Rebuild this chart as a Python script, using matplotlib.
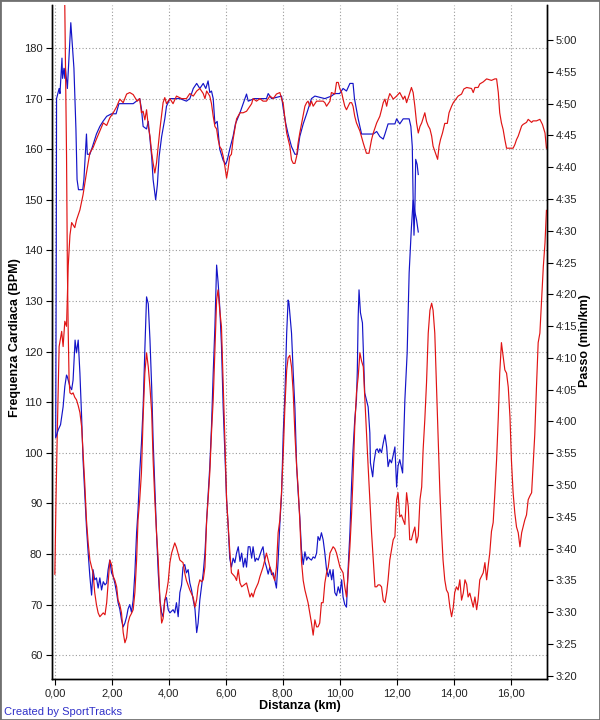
import numpy as np
import matplotlib
matplotlib.use('Agg')
import matplotlib.pyplot as plt
from matplotlib.ticker import FuncFormatter
from matplotlib.patches import Rectangle

plt.rcParams['font.family'] = ['Liberation Sans', 'DejaVu Sans']

# (km, bpm) - frequenza cardiaca, corsa blu
blue_hr = [(0.03, 103), (0.05, 140), (0.06, 170), (0.15, 172), (0.18, 171), (0.25, 178), (0.27, 174),
           (0.32, 176), (0.35, 174), (0.37, 176), (0.44, 172), (0.56, 185), (0.67, 176), (0.74, 164),
           (0.78, 154), (0.83, 152), (0.98, 152), (1.02, 154), (1.11, 163), (1.14, 159), (1.23, 159),
           (1.32, 160.5), (1.46, 163), (1.58, 164.5), (1.69, 165.5), (1.82, 166.5), (1.99, 167),
           (2.15, 167), (2.25, 169), (2.56, 169), (2.75, 169), (2.98, 170), (3.04, 168), (3.10, 164.5),
           (3.22, 164), (3.28, 165.5), (3.34, 162), (3.40, 158.5), (3.45, 154), (3.54, 150), (3.60, 153),
           (3.66, 158.5), (3.75, 162.5), (3.86, 166), (3.92, 168.5), (4.04, 170), (4.39, 170),
           (4.62, 169.5), (4.74, 170), (4.86, 172), (4.98, 173), (5.09, 172), (5.21, 173), (5.30, 172),
           (5.38, 173.5), (5.44, 171.2), (5.50, 171.5), (5.56, 170), (5.62, 165), (5.70, 165.5),
           (5.79, 160), (5.91, 157.8), (6.00, 157), (6.06, 158), (6.14, 160), (6.26, 162.6), (6.34, 165),
           (6.50, 167.2), (6.73, 170.9), (6.79, 169.5), (7.00, 170), (7.43, 170), (7.49, 171),
           (7.61, 170), (7.96, 170.5), (8.02, 168), (8.11, 165), (8.19, 163), (8.31, 160.5), (8.43, 159),
           (8.51, 159), (8.60, 162.5), (8.72, 165), (8.84, 167), (9.01, 170), (9.13, 170.5), (9.48, 170),
           (9.71, 170.5), (9.83, 171), (10.00, 171), (10.12, 172), (10.24, 171.5), (10.36, 173),
           (10.47, 173), (10.52, 170), (10.65, 166), (10.77, 163), (11.18, 163), (11.30, 163.5),
           (11.41, 162.5), (11.53, 162), (11.59, 163), (11.70, 165), (11.94, 165), (12.00, 166),
           (12.11, 165), (12.23, 166), (12.44, 166), (12.50, 164.5), (12.55, 160.5), (12.58, 150),
           (12.61, 143), (12.64, 148), (12.67, 158), (12.72, 157), (12.76, 155)]

# (km, bpm) - frequenza cardiaca, corsa rossa
red_hr = [(0.00, 76), (0.04, 90.6), (0.08, 102.5), (0.15, 121), (0.24, 124), (0.29, 121), (0.35, 126),
          (0.41, 125), (0.47, 137), (0.53, 143), (0.59, 145.5), (0.70, 144.5), (0.76, 146), (0.88, 148),
          (0.99, 151), (1.11, 155.3), (1.23, 159.3), (1.34, 160.3), (1.46, 162), (1.58, 163.6),
          (1.70, 165.2), (1.82, 164.7), (1.93, 166.2), (2.05, 167.2), (2.17, 168.4), (2.28, 169.9),
          (2.40, 169.2), (2.52, 170.9), (2.63, 171.2), (2.75, 170.8), (2.89, 169.5), (2.98, 170),
          (3.04, 167.2), (3.10, 167.5), (3.16, 165.8), (3.22, 167.8), (3.28, 164.6), (3.34, 162.6),
          (3.40, 159.3), (3.45, 157.3), (3.51, 155.3), (3.57, 157.3), (3.63, 160.6), (3.69, 164),
          (3.80, 169.2), (3.86, 170.2), (3.92, 169), (4.04, 170), (4.15, 169), (4.27, 170.5),
          (4.45, 170), (4.62, 170), (4.74, 171), (4.86, 170.5), (4.98, 171.5), (5.09, 172), (5.21, 171),
          (5.27, 170), (5.33, 171.5), (5.44, 170.5), (5.50, 169), (5.56, 166.5), (5.62, 164.5),
          (5.68, 164), (5.73, 162), (5.79, 160.5), (5.85, 160), (5.91, 158.6), (5.97, 156.6),
          (6.03, 154.3), (6.08, 156), (6.14, 158.6), (6.20, 159), (6.26, 162), (6.32, 164), (6.38, 166),
          (6.50, 167.2), (6.61, 167.2), (6.73, 167.5), (6.85, 168.5), (6.91, 169), (6.96, 170),
          (7.08, 169.5), (7.20, 170), (7.31, 169.5), (7.43, 169.5), (7.55, 170.5), (7.67, 170),
          (7.78, 170.9), (7.90, 171.2), (7.96, 170), (8.02, 169), (8.08, 165.9), (8.14, 163.2),
          (8.19, 162), (8.25, 160.6), (8.31, 157.9), (8.37, 157.2), (8.43, 157.2), (8.49, 158.6),
          (8.54, 161.2), (8.60, 163.2), (8.66, 165), (8.72, 166.9), (8.78, 168.5), (8.84, 169.2),
          (8.89, 169.5), (8.95, 168.5), (9.01, 169.5), (9.07, 168.5), (9.19, 169.5), (9.30, 169.5),
          (9.42, 169.5), (9.48, 169.2), (9.54, 168.5), (9.66, 169.5), (9.71, 171.2), (9.83, 170.9),
          (9.89, 173.2), (9.95, 173.2), (10.01, 171.9), (10.07, 171.2), (10.12, 169.9), (10.18, 168.5),
          (10.24, 167.8), (10.36, 169.2), (10.42, 169.2), (10.47, 168.5), (10.53, 166.5), (10.59, 165.2),
          (10.71, 163.6), (10.83, 161.2), (10.94, 159.2), (11.03, 159.2), (11.12, 161.9), (11.18, 163.2),
          (11.30, 165.2), (11.41, 166.5), (11.47, 167.8), (11.53, 169.2), (11.59, 169.9), (11.65, 168.5),
          (11.70, 169.9), (11.76, 171), (11.82, 170.5), (11.88, 169.9), (12.00, 170.5), (12.11, 171.2),
          (12.23, 169.9), (12.29, 170.5), (12.35, 169.2), (12.41, 170.2), (12.52, 172.2), (12.58, 171.2),
          (12.64, 168.5), (12.70, 165.2), (12.76, 163.2), (12.82, 164.5), (12.88, 165.2), (12.99, 167.2),
          (13.05, 165.5), (13.11, 164.6), (13.17, 164), (13.23, 162.6), (13.28, 160.6), (13.34, 159.6),
          (13.40, 158.6), (13.44, 158), (13.49, 160.6), (13.54, 161.9), (13.61, 163.2), (13.69, 165.1),
          (13.78, 165.1), (13.84, 167.2), (13.93, 168.5), (13.99, 169.2), (14.08, 169.9), (14.16, 170.5),
          (14.28, 170.9), (14.36, 171.9), (14.46, 172.2), (14.63, 172), (14.69, 171.2), (14.75, 172.2),
          (14.86, 172.2), (14.92, 172.9), (15.04, 173.3), (15.16, 173.9), (15.33, 173.6), (15.45, 173.9),
          (15.51, 173.9), (15.57, 171.2), (15.62, 167.2), (15.68, 165.2), (15.74, 163.9), (15.80, 161.9),
          (15.86, 160.2), (16.09, 160.2), (16.15, 160.9), (16.21, 161.9), (16.27, 162.6), (16.33, 163.6),
          (16.39, 164.6), (16.44, 164.9), (16.56, 165.3), (16.62, 165.9), (16.74, 165.3), (16.79, 165.6),
          (16.91, 165.6), (17.03, 165.9), (17.12, 164.9), (17.21, 163.2), (17.26, 160.2)]

# (km, secondi al km) - passo, corsa blu
blue_pace = [(0.04, 237.6), (0.12, 238.7), (0.20, 239.5), (0.29, 242.3), (0.35, 245.5), (0.41, 247.3),
             (0.44, 247.0), (0.53, 245.5), (0.59, 245.0), (0.64, 246.5), (0.71, 252.8), (0.76, 250.8),
             (0.82, 252.8), (0.88, 247.6), (0.94, 240.7), (0.99, 234.0), (1.05, 228.8), (1.11, 223.4),
             (1.17, 219.3), (1.23, 215.6), (1.29, 212.7), (1.34, 216.7), (1.40, 215.1), (1.46, 215.4),
             (1.52, 213.8), (1.58, 215.4), (1.64, 213.5), (1.70, 214.8), (1.76, 214.3), (1.82, 214.6),
             (1.87, 216.7), (1.93, 218.2), (1.99, 216.2), (2.05, 215.6), (2.11, 214.5), (2.17, 213.0),
             (2.22, 211.5), (2.28, 210.5), (2.34, 208.8), (2.40, 207.7), (2.46, 208.3), (2.52, 209.3),
             (2.57, 210.5), (2.63, 211.2), (2.69, 210.0), (2.75, 211.9), (2.81, 216.2), (2.87, 222.5),
             (2.92, 226.0), (2.98, 232.0), (3.04, 236.5), (3.10, 242.3), (3.16, 251.3), (3.22, 259.6),
             (3.28, 258.5), (3.34, 252.8), (3.40, 245.4), (3.45, 237.1), (3.51, 229.7), (3.57, 222.5),
             (3.63, 216.2), (3.69, 211.9), (3.75, 209.9), (3.80, 209.3), (3.86, 211.9), (3.92, 212.3),
             (3.98, 210.4), (4.04, 209.9), (4.15, 210.4), (4.21, 209.9), (4.27, 211.5), (4.33, 209.3),
             (4.39, 213.1), (4.45, 214.3), (4.50, 217.1), (4.56, 217.5), (4.62, 216.2), (4.68, 216.7),
             (4.74, 214.6), (4.80, 213.5), (4.86, 211.9), (4.92, 210.5), (4.98, 206.8), (5.03, 208.3),
             (5.09, 211.9), (5.15, 214.0), (5.21, 216.2), (5.27, 219.3), (5.33, 224.5), (5.44, 232.9),
             (5.50, 239.2), (5.56, 247.6), (5.62, 254.9), (5.68, 264.6), (5.73, 262.0), (5.79, 258.0),
             (5.85, 252.0), (5.91, 242.3), (5.97, 235.0), (6.03, 227.7), (6.08, 224.0), (6.14, 218.5),
             (6.20, 217.1), (6.26, 218.5), (6.32, 217.8), (6.38, 219.3), (6.44, 220.3), (6.50, 218.0),
             (6.56, 219.3), (6.62, 217.1), (6.68, 218.5), (6.73, 217.1), (6.79, 220.3), (6.85, 220.3),
             (6.91, 218.5), (6.96, 220.3), (7.03, 218.0), (7.08, 218.5), (7.14, 218.2), (7.20, 219.0),
             (7.26, 219.8), (7.31, 220.3), (7.37, 218.0), (7.43, 217.1), (7.49, 216.0), (7.55, 217.1),
             (7.61, 215.9), (7.67, 216.2), (7.72, 215.1), (7.78, 213.8), (7.84, 218.2), (7.90, 223.9),
             (7.96, 228.5), (8.02, 238.2), (8.08, 244.5), (8.14, 253.9), (8.19, 259.1), (8.22, 258.6),
             (8.31, 253.9), (8.37, 247.6), (8.43, 242.0), (8.49, 232.9), (8.54, 229.0), (8.60, 225.0),
             (8.66, 219.8), (8.72, 217.5), (8.78, 219.5), (8.84, 218.2), (8.89, 218.7), (8.95, 218.4),
             (9.01, 218.2), (9.07, 218.7), (9.13, 218.5), (9.19, 219.3), (9.24, 221.9), (9.30, 221.3),
             (9.36, 222.5), (9.42, 221.4), (9.48, 219.3), (9.54, 216.7), (9.60, 215.6), (9.66, 216.7),
             (9.72, 215.1), (9.77, 216.7), (9.83, 213.1), (9.89, 212.6), (9.95, 214.0), (10.01, 213.0),
             (10.07, 215.1), (10.12, 212.4), (10.18, 211.2), (10.24, 210.8), (10.30, 217.1), (10.36, 222.5),
             (10.42, 230.3), (10.47, 235.5), (10.53, 240.3), (10.59, 243.4), (10.62, 248.0), (10.65, 256.4),
             (10.68, 260.7), (10.73, 257.1), (10.80, 255.5), (10.85, 248.6), (10.88, 244.5), (10.94, 243.4),
             (11.00, 242.3), (11.06, 238.2), (11.08, 233.5), (11.16, 231.3), (11.20, 233.5), (11.27, 235.5),
             (11.32, 235.7), (11.37, 235.1), (11.41, 235.7), (11.47, 235.1), (11.53, 236.6), (11.59, 237.9),
             (11.65, 236.0), (11.70, 232.9), (11.76, 234.0), (11.82, 233.5), (11.88, 234.7), (11.94, 236.0),
             (12.00, 229.7), (12.05, 233.0), (12.11, 234.0), (12.21, 231.9), (12.29, 243.4), (12.37, 250.8),
             (12.44, 263.4), (12.52, 270.6), (12.58, 274.8), (12.64, 273.0), (12.70, 271.7), (12.76, 269.8)]

# (km, secondi al km) - passo, corsa rossa
red_pace = [(0.00, 340), (0.30, 318), (0.35, 305), (0.41, 282), (0.44, 264), (0.47, 254), (0.50, 246.5),
            (0.53, 244.5), (0.59, 244.3), (0.64, 244.5), (0.70, 243.8), (0.76, 243.4), (0.82, 242.5),
            (0.88, 241.4), (0.94, 239.2), (0.99, 235.1), (1.05, 230.3), (1.11, 224.5), (1.17, 220.9),
            (1.23, 218.2), (1.34, 216.2), (1.40, 213.1), (1.46, 211.2), (1.52, 209.9), (1.58, 209.3),
            (1.70, 209.9), (1.76, 209.6), (1.82, 211.5), (1.87, 214.6), (1.93, 218.2), (1.99, 217.5),
            (2.05, 215.6), (2.11, 215.0), (2.17, 214.0), (2.22, 211.9), (2.28, 211.2), (2.34, 209.9),
            (2.40, 206.8), (2.46, 205.2), (2.52, 206.0), (2.57, 208.3), (2.63, 209.3), (2.69, 209.8),
            (2.75, 210.4), (2.81, 213.1), (2.87, 218.2), (2.92, 224.5), (2.98, 227.7), (3.04, 231.9),
            (3.10, 240.7), (3.16, 247.6), (3.22, 250.8), (3.28, 248.6), (3.34, 245.4), (3.40, 241.4),
            (3.45, 234.0), (3.51, 227.7), (3.57, 222.5), (3.63, 218.2), (3.69, 211.9), (3.75, 208.3),
            (3.80, 209.0), (3.86, 211.9), (3.92, 213.1), (3.98, 214.8), (4.04, 217.8), (4.10, 219.3),
            (4.21, 220.9), (4.27, 220.2), (4.39, 218.2), (4.50, 217.8), (4.56, 216.2), (4.62, 215.0),
            (4.74, 213.5), (4.86, 212.3), (4.92, 210.8), (4.98, 212.0), (5.03, 214.0), (5.09, 215.1),
            (5.15, 214.8), (5.21, 215.1), (5.27, 217.1), (5.33, 224.5), (5.38, 227.7), (5.44, 231.9),
            (5.50, 238.2), (5.56, 243.4), (5.62, 251.3), (5.68, 259.1), (5.73, 260.7), (5.79, 257.5),
            (5.85, 254.9), (5.91, 246.1), (5.97, 237.1), (6.03, 227.7), (6.14, 219.8), (6.20, 216.2),
            (6.32, 215.6), (6.38, 215.0), (6.44, 216.7), (6.50, 214.6), (6.56, 214.0), (6.73, 214.6),
            (6.85, 212.4), (6.91, 213.0), (6.96, 212.4), (7.03, 213.5), (7.14, 214.6), (7.20, 215.6),
            (7.31, 217.1), (7.37, 218.2), (7.43, 219.3), (7.49, 218.2), (7.55, 217.1), (7.61, 216.4),
            (7.67, 215.6), (7.72, 215.0), (7.78, 217.1), (7.84, 222.5), (7.90, 224.5), (7.96, 229.0),
            (8.02, 235.1), (8.08, 242.6), (8.14, 248.1), (8.19, 250.0), (8.25, 250.4), (8.31, 248.6),
            (8.37, 244.5), (8.43, 237.9), (8.49, 232.9), (8.54, 229.7), (8.60, 224.5), (8.66, 218.0),
            (8.72, 215.0), (8.78, 213.5), (8.84, 212.4), (8.89, 211.5), (8.95, 209.9), (9.01, 208.3),
            (9.07, 206.4), (9.13, 208.8), (9.19, 207.7), (9.24, 207.7), (9.30, 208.3), (9.36, 211.5),
            (9.42, 211.5), (9.48, 214.6), (9.54, 216.2), (9.60, 217.1), (9.66, 219.3), (9.77, 220.3),
            (9.83, 220.0), (9.89, 219.3), (9.95, 218.2), (10.01, 217.1), (10.12, 216.2), (10.18, 214.0),
            (10.24, 212.4), (10.30, 216.2), (10.36, 220.3), (10.42, 225.6), (10.47, 231.3), (10.53, 239.2),
            (10.59, 244.5), (10.65, 247.0), (10.71, 250.8), (10.77, 249.5), (10.83, 248.6), (10.88, 243.9),
            (10.94, 238.2), (11.00, 232.9), (11.06, 227.7), (11.12, 222.5), (11.18, 218.2), (11.24, 214.0),
            (11.30, 214.0), (11.35, 214.3), (11.41, 214.3), (11.47, 214.0), (11.53, 211.9), (11.59, 211.5),
            (11.65, 213.1), (11.70, 215.1), (11.76, 218.2), (11.82, 219.8), (11.88, 221.4), (11.94, 221.9),
            (12.00, 227.7), (12.05, 228.8), (12.11, 225.0), (12.17, 225.3), (12.23, 224.5), (12.29, 223.8),
            (12.35, 228.8), (12.41, 226.6), (12.46, 221.4), (12.52, 221.4), (12.58, 222.5), (12.64, 223.4),
            (12.70, 220.9), (12.76, 222.0), (12.82, 227.7), (12.88, 229.7), (12.93, 235.5), (12.99, 240.3),
            (13.05, 246.1), (13.11, 253.9), (13.17, 257.5), (13.23, 258.6), (13.28, 257.5), (13.34, 253.9),
            (13.40, 245.4), (13.46, 237.1), (13.52, 228.8), (13.58, 222.5), (13.63, 218.2), (13.69, 215.1),
            (13.75, 213.5), (13.81, 213.0), (13.87, 210.8), (13.93, 209.3), (13.99, 210.8), (14.04, 213.1),
            (14.10, 214.0), (14.16, 213.5), (14.22, 215.1), (14.28, 211.9), (14.34, 213.0), (14.40, 215.1),
            (14.46, 214.4), (14.51, 212.4), (14.57, 213.0), (14.63, 211.9), (14.69, 210.8), (14.75, 212.4),
            (14.81, 210.4), (14.86, 212.0), (14.92, 215.1), (15.04, 216.2), (15.10, 217.8), (15.16, 215.1),
            (15.21, 217.1), (15.27, 219.3), (15.33, 222.7), (15.39, 224.1), (15.45, 228.8), (15.51, 234.0),
            (15.57, 240.7), (15.62, 247.6), (15.68, 252.4), (15.74, 250.2), (15.80, 248.1), (15.86, 247.6),
            (15.92, 245.4), (15.98, 240.7), (16.03, 234.0), (16.09, 228.8), (16.15, 225.6), (16.21, 223.4),
            (16.27, 222.5), (16.33, 220.3), (16.39, 222.5), (16.44, 223.4), (16.50, 224.5), (16.56, 225.3),
            (16.62, 227.7), (16.68, 228.3), (16.74, 228.8), (16.79, 232.9), (16.85, 237.9), (16.91, 245.4),
            (16.97, 252.4), (17.03, 253.9), (17.09, 259.1), (17.15, 264.3), (17.21, 268.1), (17.26, 273.2)]

x_ticks = [0, 2, 4, 6, 8, 10, 12, 14, 16]
hr_ticks = [60, 70, 80, 90, 100, 110, 120, 130, 140, 150, 160, 170, 180]
pace_ticks = list(range(200, 305, 5))   # 3:20 ... 5:00

BLUE = '#1414c8'
RED = '#e01414'

fig = plt.figure(figsize=(6, 7.2), dpi=100)
ax = fig.add_axes([52 / 600, 1 - 679 / 720, 495 / 600, 674 / 720])
ax2 = ax.twinx()

x, y = np.array(blue_hr).T
ax.plot(x, y, color=BLUE, lw=0.85)
x, y = np.array(red_hr).T
ax.plot(x, y, color=RED, lw=0.85)
x, y = np.array(blue_pace).T
ax2.plot(x, y, color=BLUE, lw=0.85)
x, y = np.array(red_pace).T
ax2.plot(x, y, color=RED, lw=0.85)

ax.set_xlim(-0.1, 17.28)
ax.set_ylim(55.3, 188.5)
ax2.set_ylim(199.5, 305.5)

ax.set_xticks(x_ticks)
ax.xaxis.set_major_formatter(FuncFormatter(lambda v, p: '{:.2f}'.format(v).replace('.', ',')))
ax.set_yticks(hr_ticks)
ax2.set_yticks(pace_ticks)
ax2.yaxis.set_major_formatter(FuncFormatter(lambda v, p: '{}:{:02d}'.format(int(v) // 60, int(v) % 60)))

ax.grid(True, color='#9a9a9a', linestyle=(0, (1, 2)), linewidth=0.8)
ax.set_axisbelow(True)

for a in (ax, ax2):
    a.spines['top'].set_visible(False)
    for s in ('left', 'right', 'bottom'):
        a.spines[s].set_color('black')
        a.spines[s].set_linewidth(1.0)
    a.tick_params(direction='out', length=4, width=0.8, labelsize=8, colors='black',
                  labelcolor='#222222')
ax.tick_params(axis='y', pad=3)
ax.tick_params(axis='x', pad=3)
ax2.tick_params(axis='y', pad=2)

fig.text(300 / 600, 1 - 706 / 720, 'Distanza (km)', ha='center', va='center',
         fontsize=9, fontweight='bold')
fig.text(15 / 600, 1 - 338 / 720, 'Frequenza Cardiaca (BPM)', ha='center', va='center',
         rotation=90, fontsize=9, fontweight='bold')
fig.text(585 / 600, 1 - 341 / 720, 'Passo (min/km)', ha='center', va='center',
         rotation=90, fontsize=9, fontweight='bold')
fig.text(4 / 600, 1 - 712 / 720, 'Created by SportTracks', ha='left', va='center',
         fontsize=8, color='#3030c8')

fig.patches.append(Rectangle((0, 0), 1, 1, transform=fig.transFigure, fill=False,
                             edgecolor='#707070', linewidth=2))

fig.savefig('out.png', dpi=100)
